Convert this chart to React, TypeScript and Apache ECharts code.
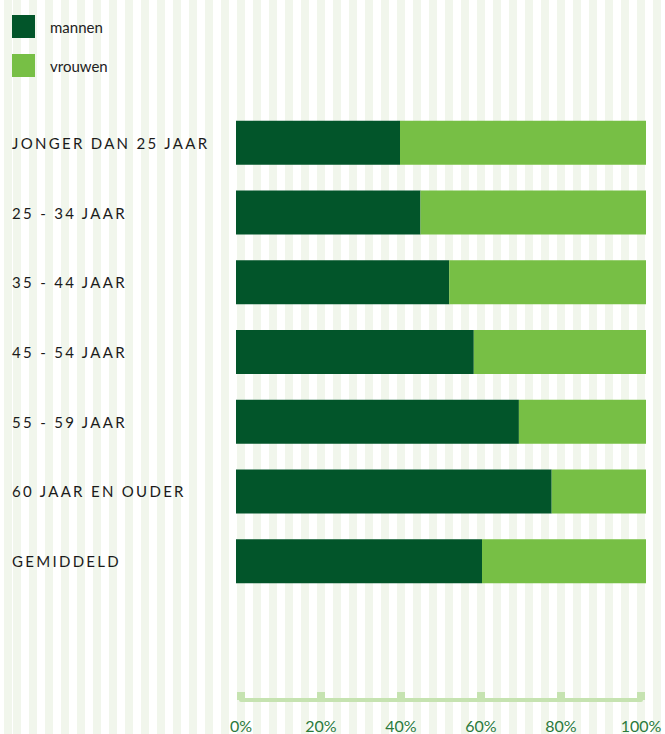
import React, { useEffect, useRef } from "react";
import * as echarts from "echarts";

const categories = [
  "JONGER DAN 25 JAAR",
  "25 - 34 JAAR",
  "35 - 44 JAAR",
  "45 - 54 JAAR",
  "55 - 59 JAAR",
  "60 JAAR EN OUDER",
  "GEMIDDELD",
];
const mannen = [40, 45, 52, 58, 69, 77, 60];
const vrouwen = [60, 55, 48, 42, 31, 23, 40];
const seriesNames = ["mannen", "vrouwen"];
const axisTicks = [0, 20, 40, 60, 80, 100];

const DARK = "#02552a";
const LIGHT = "#77bf45";
const AXIS = "#c6e3b1";
const FONT = "Lato, 'DejaVu Sans', sans-serif";

export default function App() {
  const ref = useRef<HTMLDivElement>(null);
  useEffect(() => {
    document.body.style.margin = "0";
    const chart = echarts.init(ref.current!, null, { renderer: "svg" });
    chart.setOption({
      animation: false,
      backgroundColor: "transparent",
      legend: {
        orient: "vertical",
        left: 12,
        top: 15,
        padding: 0,
        itemWidth: 23,
        itemHeight: 23,
        itemGap: 16,
        icon: "rect",
        data: seriesNames,
        textStyle: { fontFamily: FONT, fontSize: 15, color: "#222222", padding: [0, 0, 0, 10] },
      },
      grid: [
        { left: 236, right: 19, top: 108, height: 488, containLabel: false },
        { left: 241, right: 24, top: 600, height: 100, containLabel: false },
      ],
      xAxis: [
        { type: "value", gridIndex: 0, min: 0, max: 100, show: false },
        {
          type: "value",
          gridIndex: 1,
          min: 0,
          max: 100,
          interval: 20,
          data: axisTicks,
          axisLine: { show: true, lineStyle: { color: AXIS, width: 4 } },
          axisTick: { show: true, inside: true, length: 8, lineStyle: { color: AXIS, width: 8 } },
          splitLine: { show: false },
          axisLabel: {
            formatter: "{value}%",
            color: "#2b7a3c",
            fontFamily: FONT,
            fontSize: 16,
            lineHeight: 16,
            margin: 17,
          },
        },
      ],
      yAxis: [
        {
          type: "category",
          gridIndex: 0,
          inverse: true,
          data: categories,
          axisLine: { show: false },
          axisTick: { show: false },
          splitLine: { show: false },
          axisLabel: {
            align: "left",
            margin: 224,
            color: "#1b1b1b",
            fontFamily: FONT,
            fontSize: 15,
          },
        },
        { type: "value", gridIndex: 1, show: false },
      ],
      series: [
        {
          name: seriesNames[0],
          type: "bar",
          stack: "total",
          xAxisIndex: 0,
          yAxisIndex: 0,
          barWidth: 44,
          itemStyle: { color: DARK },
          data: mannen,
        },
        {
          name: seriesNames[1],
          type: "bar",
          stack: "total",
          xAxisIndex: 0,
          yAxisIndex: 0,
          barWidth: 44,
          itemStyle: { color: LIGHT },
          data: vrouwen,
        },
      ],
    });
    return () => chart.dispose();
  }, []);
  return (
    <div
      style={{
        position: "absolute",
        left: 0,
        top: 0,
        width: 665,
        height: 734,
        background:
          "repeating-linear-gradient(to right, #f1f6ec 0px, #f1f6ec 8px, #ffffff 8px, #ffffff 16px)",
        backgroundPosition: "13px 0",
      }}
    >
      <style>{`text[fill="#1b1b1b"] { letter-spacing: 2.3px; }`}</style>
      <div ref={ref} style={{ width: 665, height: 734 }} />
    </div>
  );
}
